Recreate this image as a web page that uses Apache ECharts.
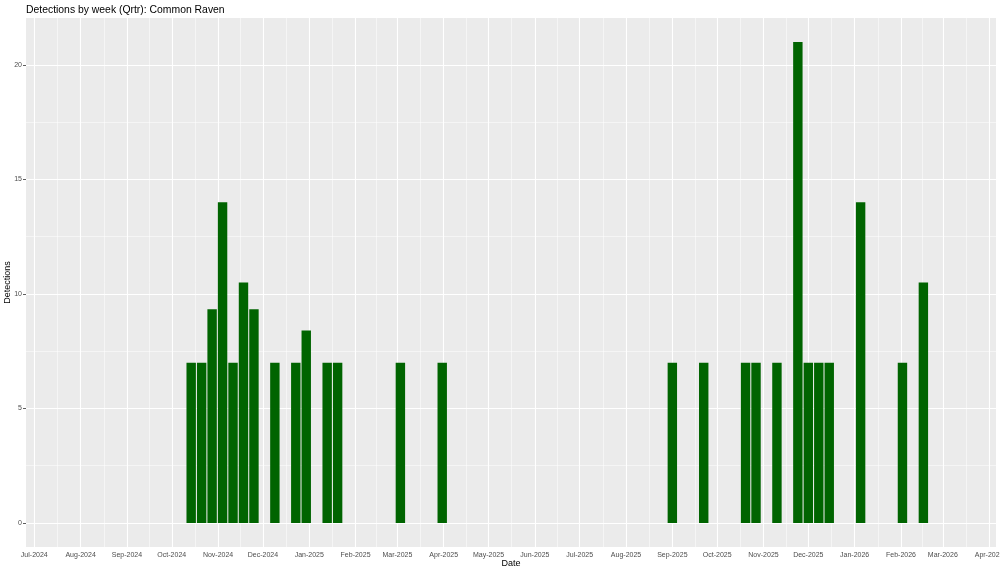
<!DOCTYPE html>
<html>
<head>
<meta charset="utf-8">
<script src="https://cdn.jsdelivr.net/npm/echarts@6/dist/echarts.min.js"></script>
<style>
html,body{margin:0;padding:0;background:#fff;}
#chart{width:1000px;height:573px;}
</style>
</head>
<body>
<div id="chart"></div>
<script>
// ---- data ----
const weeks = ['2024-10-14','2024-10-21','2024-10-28','2024-11-04','2024-11-11','2024-11-18','2024-11-25',
  '2024-12-09','2024-12-23','2024-12-30','2025-01-13','2025-01-20','2025-03-03','2025-03-31',
  '2025-09-01','2025-09-22','2025-10-20','2025-10-27','2025-11-10','2025-11-24','2025-12-01',
  '2025-12-08','2025-12-15','2026-01-05','2026-02-02','2026-02-16'];
const detections = [7,7,9.33,14,7,10.5,9.33,7,7,8.4,7,7,7,7,7,7,7,7,7,21,7,7,7,14,7,10.5];
const monthTicks = ['2024-07-01','2024-08-01','2024-09-01','2024-10-01','2024-11-01','2024-12-01',
  '2025-01-01','2025-02-01','2025-03-01','2025-04-01','2025-05-01','2025-06-01','2025-07-01',
  '2025-08-01','2025-09-01','2025-10-01','2025-11-01','2025-12-01','2026-01-01','2026-02-01',
  '2026-03-01','2026-04-01'];
const monthNames = ['Jan','Feb','Mar','Apr','May','Jun','Jul','Aug','Sep','Oct','Nov','Dec'];
const yTicks = [0,5,10,15,20];
const yMinor = [2.5,7.5,12.5,17.5];
const titleText = 'Detections by week (Qrtr): Common Raven';

// ---- helpers ----
const DAY = 86400000;
function ts(s){ const p = s.split('-').map(Number); return Date.UTC(p[0], p[1]-1, p[2]); }
const tickTs = monthTicks.map(ts);
const minorTs = [];
for (let i = 0; i < tickTs.length - 1; i++) minorTs.push((tickTs[i] + tickTs[i+1]) / 2);
const xMin = tickTs[0] - 5.55 * DAY;
const xMax = tickTs[0] + 643.6 * DAY;
const yMin = -1.05, yMax = 22.05;

const grid = {left: 26, right: 4, top: 18, bottom: 26};
const plotW = 1000 - grid.left - grid.right;
const pxPerDay = plotW / ((xMax - xMin) / DAY);
const barW = 7 * 0.9 * pxPerDay;

const font = 'Liberation Sans, Arial, Helvetica, sans-serif';

const chart = echarts.init(document.getElementById('chart'), null, {renderer: 'canvas'});
const lineCommon = {symbol: 'none', silent: true, label: {show: false}, emphasis: {disabled: true}, animation: false};

chart.setOption({
  animation: false,
  backgroundColor: '#ffffff',
  title: {
    text: titleText, left: 21, top: 0,
    textStyle: {fontFamily: font, fontSize: 10.4, fontWeight: 'normal', color: '#000'}
  },
  grid: Object.assign({show: true, backgroundColor: '#EBEBEB', borderWidth: 0, containLabel: false, outerBoundsMode: 'none'}, grid),
  xAxis: {
    type: 'value', min: xMin, max: xMax,
    name: 'Date', nameLocation: 'middle', nameGap: 12, nameMoveOverlap: false,
    nameTextStyle: {fontFamily: font, fontSize: 9, color: '#000', verticalAlign: 'top'},
    axisLine: {show: false},
    axisTick: {show: true, length: 3, lineStyle: {color: '#333', width: 0.8}, customValues: tickTs},
    axisLabel: {
      customValues: tickTs, fontFamily: font, fontSize: 7, color: '#4D4D4D', margin: 5,
      hideOverlap: false,
      formatter: function(v){ const d = new Date(v); return monthNames[d.getUTCMonth()] + '-' + d.getUTCFullYear(); }
    },
    splitLine: {show: false}
  },
  yAxis: {
    type: 'value', min: yMin, max: yMax,
    name: 'Detections', nameLocation: 'middle', nameGap: 14, nameRotate: 90, nameMoveOverlap: false,
    nameTextStyle: {fontFamily: font, fontSize: 9, color: '#000'},
    axisLine: {show: false},
    axisTick: {show: true, length: 3, lineStyle: {color: '#333', width: 0.8}, customValues: yTicks},
    axisLabel: {customValues: yTicks, fontFamily: font, fontSize: 7, color: '#4D4D4D', margin: 4},
    splitLine: {show: false}
  },
  series: [
    {
      type: 'line', data: [], silent: true, z: 1,
      markLine: Object.assign({z: 1, lineStyle: {color: '#ffffff', width: 0.5, type: 'solid'},
        data: minorTs.map(v => ({xAxis: v})).concat(yMinor.map(v => ({yAxis: v})))}, lineCommon)
    },
    {
      type: 'line', data: [], silent: true, z: 1,
      markLine: Object.assign({z: 1, lineStyle: {color: '#ffffff', width: 1.1, type: 'solid'},
        data: tickTs.map(v => ({xAxis: v})).concat(yTicks.map(v => ({yAxis: v})))}, lineCommon)
    },
    {
      type: 'bar', z: 3,
      barWidth: barW,
      itemStyle: {color: '#006400'},
      data: weeks.map((w, i) => [ts(w), detections[i]])
    }
  ]
});
</script>
</body>
</html>
